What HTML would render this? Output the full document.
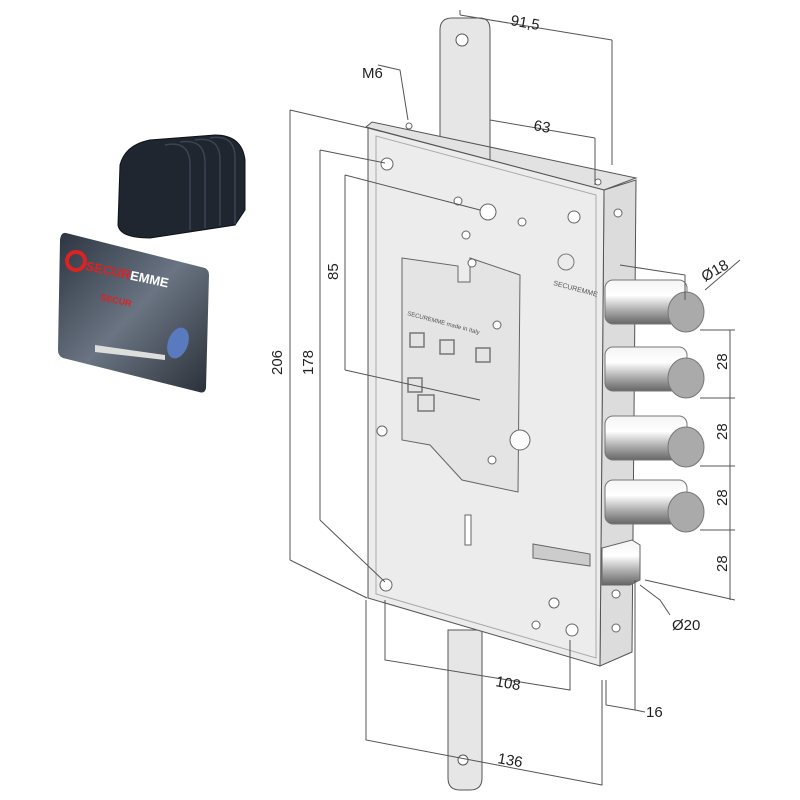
<!DOCTYPE html>
<html><head><meta charset="utf-8"><style>
html,body{margin:0;padding:0;background:#fff;}
svg{display:block;}
text{font-family:"Liberation Sans",sans-serif;font-size:15px;fill:#222;}
</style></head><body>
<svg width="800" height="800" viewBox="0 0 800 800" xmlns="http://www.w3.org/2000/svg">
<defs>
<linearGradient id="cyl" x1="0" y1="0" x2="0" y2="1">
<stop offset="0" stop-color="#f4f4f4"/><stop offset="0.35" stop-color="#ffffff"/><stop offset="0.7" stop-color="#aaa"/><stop offset="1" stop-color="#666"/></linearGradient>
<linearGradient id="card" x1="0" y1="0" x2="1" y2="1">
<stop offset="0" stop-color="#2c3440"/><stop offset="0.5" stop-color="#6a7482"/><stop offset="1" stop-color="#2a3038"/></linearGradient>
</defs>
<!-- black cylinder -->
<g fill="#1f2630" stroke="#0e1218">
<path d="M120 165 Q125 145 150 140 L215 135 Q242 135 245 160 L245 210 L235 225 L150 238 Q120 238 118 225 Z"/>
</g>
<g stroke="#3a4452" fill="none" stroke-width="1.5">
<path d="M165 145 Q190 140 190 165 L190 230"/><path d="M180 142 Q205 138 205 163 L205 228"/><path d="M195 140 Q220 136 220 160 L220 226"/><path d="M210 138 Q235 134 235 158 L235 224"/>
</g>
<!-- card -->
<path d="M66 233 L205 268 Q209 270 209 275 L206 388 Q205 394 199 392 L63 358 Q58 356 58 350 L60 240 Q61 232 66 233 Z" fill="url(#card)"/>
<circle cx="76" cy="261" r="9" fill="none" stroke="#d22" stroke-width="4"/>
<text x="85" y="270" style="font-size:13px;font-weight:bold;fill:#d22" transform="rotate(12 85 270)">SECUR<tspan fill="#fff">EMME</tspan></text>
<text x="100" y="300" style="font-size:9px;font-weight:bold;fill:#d22" transform="rotate(12 100 300)">SECUR</text>
<path d="M95 345 L165 355 L165 360 L95 352 Z" fill="#ddd"/>
<ellipse cx="178" cy="343" rx="10" ry="16" fill="#5a7ac0" transform="rotate(20 178 343)"/>
<!-- upper strip -->
<path d="M440 30 Q440 18 452 18 L480 18 Q490 18 490 30 L490 150 L440 150 Z" fill="#e6e6e6" stroke="#555"/>
<circle cx="462" cy="40" r="6" fill="#fff" stroke="#555"/>
<!-- lower strip -->
<path d="M448 630 L482 630 L482 778 Q482 790 470 790 L460 790 Q448 790 448 778 Z" fill="#e6e6e6" stroke="#555"/>
<circle cx="463" cy="760" r="5" fill="#fff" stroke="#555"/>
<!-- top face -->
<path d="M366 127 L372 122 L636 178 L604 190 Z" fill="#e2e2e2" stroke="#555"/>
<!-- side face -->
<path d="M604 190 L636 180 L632 652 L600 666 Z" fill="#dcdcdc" stroke="#555"/>
<!-- front face -->
<path d="M368 128 L604 190 L600 666 L368 598 Z" fill="#ececec" stroke="#555"/>
<path d="M376 136 L596 195 L596 658 L376 594 Z" fill="none" stroke="#aaa"/>
<!-- inner plate -->
<path d="M402 258 L458 266 L458 282 L470 282 L470 258 L520 275 L518 492 L485 485 L462 480 L430 445 L402 440 Z" fill="#e4e4e4" stroke="#666"/>
<g fill="#fff" stroke="#666">
<circle cx="387" cy="164" r="6"/><circle cx="574" cy="217" r="6"/><circle cx="488" cy="212" r="8"/><circle cx="458" cy="201" r="4"/><circle cx="466" cy="235" r="4"/><circle cx="522" cy="222" r="4"/>
<circle cx="386" cy="585" r="6"/><circle cx="572" cy="630" r="6"/><circle cx="554" cy="603" r="5"/><circle cx="536" cy="625" r="4"/>
<circle cx="382" cy="431" r="5"/><circle cx="472" cy="263" r="4"/><circle cx="497" cy="325" r="4"/><circle cx="492" cy="460" r="4"/><circle cx="520" cy="440" r="10"/>
<circle cx="618" cy="213" r="4"/><circle cx="616" cy="594" r="4"/><circle cx="616" cy="628" r="4"/>
<circle cx="409" cy="126" r="3"/><circle cx="598" cy="182" r="3"/>
</g>
<rect x="465" y="515" width="6" height="30" fill="#fff" stroke="#666"/>
<path d="M533 544 L590 554 L590 566 L533 558 Z" fill="#ccc" stroke="#666"/>
<g fill="none" stroke="#777" stroke-width="1.5">
<rect x="410" y="333" width="14" height="14"/><rect x="440" y="340" width="14" height="14"/><rect x="476" y="348" width="14" height="14"/>
<rect x="408" y="378" width="14" height="14"/><rect x="418" y="395" width="16" height="16"/>
</g>
<text x="407" y="315" style="font-size:6px;fill:#555" transform="rotate(15 407 315)">SECUREMME made in Italy</text>
<text x="553" y="285" style="font-size:7px;fill:#555" transform="rotate(15 553 285)">SECUREMME</text>
<circle cx="566" cy="262" r="8" fill="none" stroke="#777"/>
<!-- bolts -->
<g>
<rect x="605" y="280" width="82" height="44" rx="8" fill="url(#cyl)" stroke="#777"/>
<ellipse cx="686" cy="312" rx="18" ry="20" fill="#aaa" stroke="#777"/>
<rect x="605" y="347" width="82" height="44" rx="8" fill="url(#cyl)" stroke="#777"/>
<ellipse cx="686" cy="378" rx="18" ry="20" fill="#aaa" stroke="#777"/>
<rect x="605" y="416" width="82" height="44" rx="8" fill="url(#cyl)" stroke="#777"/>
<ellipse cx="686" cy="447" rx="18" ry="20" fill="#aaa" stroke="#777"/>
<rect x="605" y="480" width="82" height="44" rx="8" fill="url(#cyl)" stroke="#777"/>
<ellipse cx="686" cy="512" rx="18" ry="20" fill="#aaa" stroke="#777"/>
<path d="M602 548 L632 540 L640 545 L640 580 L630 585 L602 585 Z" fill="url(#cyl)" stroke="#666"/>
</g>
<!-- dimension lines -->
<g stroke="#555" stroke-width="1" fill="none">
<path d="M460 15 L612 40 M612 40 L612 165 M460 15 L460 10"/>
<path d="M490 120 L595 138 M595 138 L595 185 M490 120 L490 160"/>
<path d="M378 65 L400 70 L408 120"/>
<path d="M290 110 L290 560 M290 110 L368 128 M290 560 L367 598"/>
<path d="M320 150 L320 520 M320 150 L385 163 M320 520 L385 582"/>
<path d="M345 175 L345 370 M345 175 L480 210 M345 370 L480 400"/>
<path d="M705 290 L740 260"/>
<path d="M620 265 L685 275 L685 300"/>
<path d="M730 330 L730 600"/>
<path d="M700 330 L735 330 M700 398 L735 398 M700 466 L735 466 M700 530 L735 530 M645 580 L735 600"/>
<path d="M640 585 L660 600 L670 615"/>
<path d="M385 600 L385 660 L570 690 L570 640"/>
<path d="M366 600 L366 740 L602 785 L602 680"/>
<path d="M606 680 L606 705 L635 710 L635 580 M635 710 L645 712"/>
</g>
<g>
<text x="510" y="25" transform="rotate(10 510 25)">91,5</text>
<text x="533" y="130" transform="rotate(10 533 130)">63</text>
<text x="362" y="78">M6</text>
<text x="282" y="375" transform="rotate(-90 282 375)">206</text>
<text x="313" y="375" transform="rotate(-90 313 375)">178</text>
<text x="338" y="280" transform="rotate(-90 338 280)">85</text>
<text x="705" y="282" transform="rotate(-30 705 282)">Ø18</text>
<text x="727" y="370" transform="rotate(-90 727 370)">28</text>
<text x="727" y="440" transform="rotate(-90 727 440)">28</text>
<text x="727" y="506" transform="rotate(-90 727 506)">28</text>
<text x="727" y="572" transform="rotate(-90 727 572)">28</text>
<text x="672" y="630">Ø20</text>
<text x="495" y="686" transform="rotate(10 495 686)">108</text>
<text x="646" y="717">16</text>
<text x="497" y="763" transform="rotate(10 497 763)">136</text>
</g>
</svg>
</body></html>
